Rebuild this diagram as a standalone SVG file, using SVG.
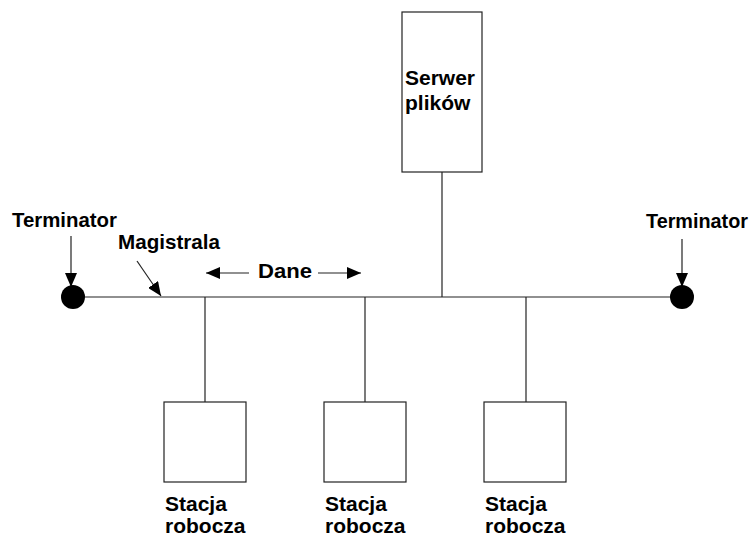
<svg xmlns="http://www.w3.org/2000/svg" width="753" height="539" viewBox="0 0 753 539">
<defs>
<marker id="ah" viewBox="0 0 14 12" refX="14" refY="6" markerWidth="14" markerHeight="12" markerUnits="userSpaceOnUse" orient="auto">
<path d="M0,0 L14,6 L0,12 Z" fill="#000"/>
</marker>
</defs>
<style>
.ln{stroke:#222;stroke-width:1.2;fill:none}
.box{fill:#fff;stroke:#222;stroke-width:1.2}
.t{font-family:"Liberation Sans",Arial,sans-serif;font-size:21px;font-weight:bold;fill:#000}
.arr{stroke:#222;stroke-width:1.2;fill:none;marker-end:url(#ah)}
</style>
<rect width="753" height="539" fill="#fff"/>
<g id="connectors">
<line class="ln" x1="73" y1="297" x2="682" y2="297"/>
<line class="ln" x1="442" y1="172" x2="442" y2="297"/>
<line class="ln" x1="205" y1="297" x2="205" y2="402"/>
<line class="ln" x1="365" y1="297" x2="365" y2="402"/>
<line class="ln" x1="526" y1="297" x2="526" y2="402"/>
<line class="arr" x1="71" y1="236" x2="71" y2="287"/>
<line class="arr" x1="682" y1="239" x2="682" y2="287"/>
<line class="arr" x1="137" y1="261" x2="161" y2="296"/>
<line class="arr" x1="249" y1="273" x2="206" y2="273"/>
<line class="arr" x1="318" y1="273" x2="361" y2="273"/>
</g>
<g id="server">
<rect class="box" x="402" y="12" width="80" height="160"/>
<text class="t" x="405" y="85">Serwer</text>
<text class="t" x="405" y="110">plików</text>
</g>
<g id="ws1">
<rect class="box" x="164" y="402" width="82" height="80"/>
<text class="t" x="165" y="511">Stacja</text>
<text class="t" x="165" y="533">robocza</text>
</g>
<g id="ws2">
<rect class="box" x="324" y="402" width="82" height="80"/>
<text class="t" x="325" y="511">Stacja</text>
<text class="t" x="325" y="533">robocza</text>
</g>
<g id="ws3">
<rect class="box" x="484" y="402" width="82" height="80"/>
<text class="t" x="485" y="511">Stacja</text>
<text class="t" x="485" y="533">robocza</text>
</g>
<g id="terminator-left">
<circle cx="73" cy="297" r="12" fill="#000"/>
<text class="t" x="12" y="227" textLength="105" lengthAdjust="spacingAndGlyphs">Terminator</text>
</g>
<g id="terminator-right">
<circle cx="682" cy="297" r="12" fill="#000"/>
<text class="t" x="646" y="228" textLength="102" lengthAdjust="spacingAndGlyphs">Terminator</text>
</g>
<g id="labels">
<text class="t" x="118" y="249" textLength="102" lengthAdjust="spacingAndGlyphs">Magistrala</text>
<text class="t" x="258" y="278" textLength="54" lengthAdjust="spacingAndGlyphs">Dane</text>
</g>
</svg>
